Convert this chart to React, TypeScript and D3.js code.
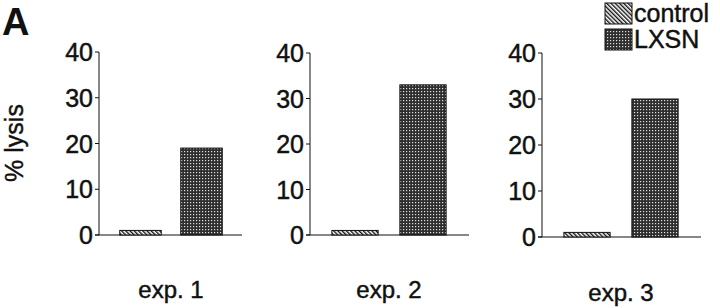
import React from "react";
import * as d3 from "d3";

const experiments = ["exp. 1", "exp. 2", "exp. 3"];
const groups = ["control", "LXSN"];
const controlValues = [1, 1, 1];
const lxsnValues = [19, 33, 30];
const yTicks = [0, 10, 20, 30, 40];

// layout per panel (pixels)
const panels = [
  { axisX: 99, y0: 235, y40: 52, bandW: 122, lineEnd: 242, labelY: 298 },
  { axisX: 310, y0: 235, y40: 53, bandW: 136, lineEnd: 469, labelY: 298 },
  { axisX: 542, y0: 237, y40: 53, bandW: 136, lineEnd: 701, labelY: 301 },
];

const FONT = "'Liberation Sans', Arial, Helvetica, sans-serif";
const ink = "#111";
const textStroke = { stroke: ink, strokeWidth: 0.45 };

export default function App() {
  return (
    <svg width={720} height={308} style={{ position: "absolute", left: 0, top: 0, background: "#fff" }} fontFamily={FONT}>
      <defs>
        <pattern id="hatch" width={3} height={3} patternUnits="userSpaceOnUse" patternTransform="rotate(-45)">
          <rect width={3} height={3} fill="#fff" />
          <rect x={0} y={0} width={1.4} height={3} fill={ink} />
        </pattern>
        <pattern id="dots" width={3} height={3} patternUnits="userSpaceOnUse">
          <rect width={3} height={3} fill="#2e2e2e" />
          <rect x={1} y={1} width={1.2} height={1.2} fill="#e0e0e0" />
        </pattern>
      </defs>
      <rect width={720} height={308} fill="#fff" />
      <text x={2} y={35} fontSize={38} fontWeight="bold" fill={ink}>A</text>
      <text transform="translate(23,143) rotate(-90)" textAnchor="middle" fontSize={25} fill={ink} {...textStroke}>% lysis</text>
      {experiments.map((exp, i) => {
        const p = panels[i];
        const y = d3.scaleLinear().domain([0, 40]).range([p.y0, p.y40]);
        const x = d3
          .scaleBand<string>()
          .domain(groups)
          .range([p.axisX + 11, p.axisX + 11 + p.bandW])
          .paddingInner(0.32)
          .paddingOuter(0.16);
        const vals = [controlValues[i], lxsnValues[i]];
        return (
          <g key={exp}>
            <line x1={p.axisX} x2={p.axisX} y1={y(40)} y2={y(0)} stroke={ink} strokeWidth={1} />
            <line x1={p.axisX - 4} x2={p.lineEnd} y1={y(0)} y2={y(0)} stroke={ink} strokeWidth={1.2} />
            {yTicks.map((t) => (
              <g key={t}>
                <line x1={p.axisX - 4} x2={p.axisX} y1={y(t)} y2={y(t)} stroke={ink} strokeWidth={1} />
                <text x={p.axisX - 6} y={y(t)} dy="0.36em" textAnchor="end" fontSize={25} fill={ink} {...textStroke}>
                  {t}
                </text>
              </g>
            ))}
            {groups.map((g, j) => (
              <rect
                key={g}
                x={x(g)!}
                width={x.bandwidth()}
                y={y(vals[j])}
                height={y(0) - y(vals[j])}
                fill={j === 0 ? "url(#hatch)" : "url(#dots)"}
                stroke={ink}
                strokeWidth={1}
              />
            ))}
            <text x={(x("control")! + x("LXSN")! + x.bandwidth()) / 2} y={p.labelY} textAnchor="middle" fontSize={24} fill={ink} {...textStroke}>
              {exp}
            </text>
          </g>
        );
      })}
      {groups.map((g, j) => (
        <g key={g}>
          <rect x={605} y={3 + j * 26} width={27} height={21} fill={j === 0 ? "url(#hatch)" : "url(#dots)"} stroke={ink} strokeWidth={1} />
          <text x={634} y={22 + j * 26} fontSize={25} fill={ink} {...textStroke}>{g}</text>
        </g>
      ))}
    </svg>
  );
}
